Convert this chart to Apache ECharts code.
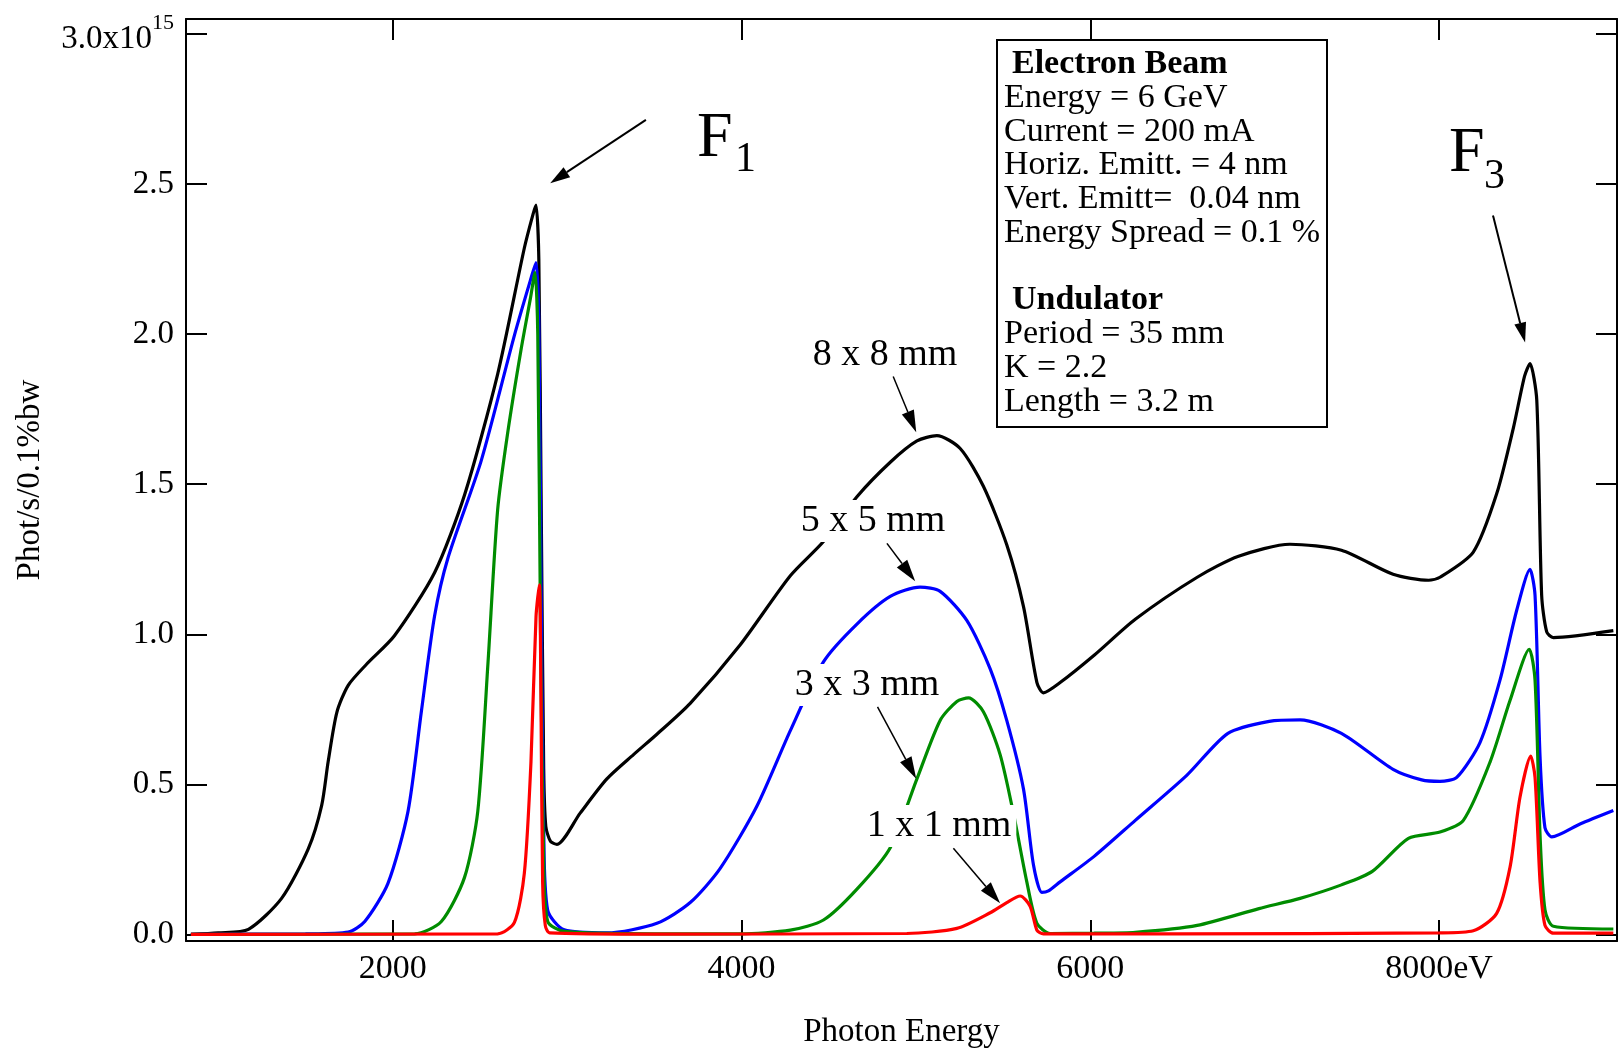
<!DOCTYPE html>
<html>
<head>
<meta charset="utf-8">
<script src="https://cdn.jsdelivr.net/npm/echarts@6/dist/echarts.min.js"></script>
<style>
  html, body { margin: 0; padding: 0; background: #fff; }
  #main { width: 1619px; height: 1049px; }
</style>
</head>
<body>
<div id="main"></div>
<script>
var fontFam = "'Liberation Serif', 'Times New Roman', serif";

// tick positions
var xTicks = [2000, 4000, 6000, 8000];
var yTicks = [0, 0.5, 1, 1.5, 2, 2.5, 3];

// photon energy (eV) and flux (x10^15 phot/s/0.1%bw)
var energy8 = [843, 1000, 1173, 1363, 1516, 1593, 1630, 1680, 1745, 1850, 2010, 2240, 2412, 2602, 2755, 2805, 2822, 2838, 2852, 2866, 2878, 2905, 2942, 3075, 3228, 3381, 3515, 3706, 3993, 4280, 4470, 4662, 4853, 5006, 5120, 5254, 5387, 5521, 5617, 5694, 5731, 5827, 6022, 6258, 6613, 6850, 7145, 7440, 7736, 7940, 8005, 8196, 8330, 8426, 8490, 8521, 8560, 8588, 8617, 8655, 8999];
var flux8 = [0.0, 0.005, 0.017, 0.12, 0.285, 0.43, 0.575, 0.74, 0.83, 0.90, 0.995, 1.205, 1.464, 1.867, 2.287, 2.40, 2.43, 2.25, 1.40, 0.55, 0.36, 0.31, 0.30, 0.404, 0.518, 0.599, 0.667, 0.77, 0.965, 1.195, 1.309, 1.458, 1.573, 1.644, 1.662, 1.619, 1.493, 1.298, 1.092, 0.839, 0.805, 0.839, 0.93, 1.05, 1.19, 1.26, 1.30, 1.28, 1.20, 1.18, 1.19, 1.274, 1.468, 1.688, 1.86, 1.902, 1.78, 1.13, 1.008, 0.989, 1.012];

var energy5 = [843, 1500, 1745, 1840, 1973, 2088, 2164, 2240, 2317, 2507, 2698, 2790, 2822, 2838, 2852, 2866, 2889, 2984, 3228, 3515, 3706, 3878, 4088, 4280, 4470, 4662, 4853, 5024, 5139, 5292, 5426, 5521, 5617, 5674, 5722, 5760, 5827, 6022, 6258, 6553, 6789, 7026, 7203, 7440, 7736, 7900, 8005, 8101, 8235, 8349, 8445, 8521, 8550, 8579, 8607, 8646, 8808, 8999];
var flux5 = [0.0, 0.002, 0.008, 0.043, 0.17, 0.41, 0.74, 1.06, 1.254, 1.577, 1.996, 2.18, 2.238, 2.05, 1.10, 0.35, 0.08, 0.015, 0.005, 0.037, 0.106, 0.22, 0.427, 0.679, 0.908, 1.034, 1.126, 1.157, 1.143, 1.046, 0.885, 0.713, 0.484, 0.232, 0.14, 0.145, 0.175, 0.26, 0.38, 0.53, 0.67, 0.71, 0.715, 0.67, 0.55, 0.515, 0.51, 0.523, 0.64, 0.847, 1.08, 1.216, 1.13, 0.588, 0.355, 0.325, 0.368, 0.413];

var energy3 = [843, 2126, 2279, 2412, 2488, 2546, 2602, 2660, 2736, 2790, 2816, 2832, 2848, 2866, 2889, 2984, 3500, 3993, 4280, 4470, 4662, 4853, 5006, 5139, 5235, 5302, 5387, 5483, 5559, 5636, 5694, 5770, 6022, 6258, 6613, 6967, 7203, 7440, 7617, 7824, 8005, 8139, 8292, 8407, 8517, 8550, 8579, 8607, 8655, 8999];
var flux3 = [0.0, 0.002, 0.043, 0.19, 0.41, 0.90, 1.415, 1.673, 1.948, 2.12, 2.206, 2.00, 1.00, 0.25, 0.043, 0.01, 0.002, 0.002, 0.014, 0.048, 0.151, 0.289, 0.518, 0.713, 0.776, 0.788, 0.742, 0.599, 0.404, 0.175, 0.037, 0.003, 0.004, 0.007, 0.03, 0.086, 0.12, 0.165, 0.21, 0.32, 0.341, 0.38, 0.574, 0.78, 0.95, 0.847, 0.328, 0.082, 0.027, 0.018];

var energy1 = [843, 2602, 2698, 2755, 2793, 2822, 2841, 2850, 2860, 2875, 2900, 3500, 4948, 5235, 5426, 5521, 5598, 5655, 5694, 5731, 6500, 8005, 8196, 8330, 8407, 8464, 8525, 8550, 8579, 8607, 8655, 8999];
var flux1 = [0.0, 0.002, 0.04, 0.204, 0.575, 1.06, 1.165, 0.80, 0.17, 0.03, 0.005, 0.001, 0.003, 0.02, 0.072, 0.106, 0.128, 0.094, 0.014, 0.002, 0.002, 0.005, 0.012, 0.07, 0.225, 0.458, 0.594, 0.523, 0.173, 0.03, 0.004, 0.004];

// parameter box text
var infoLines = ['Electron Beam', 'Energy = 6 GeV', 'Current = 200 mA', 'Horiz. Emitt. = 4 nm',
  'Vert. Emitt=  0.04 nm', 'Energy Spread = 0.1 %', '', 'Undulator', 'Period = 35 mm', 'K = 2.2', 'Length = 3.2 m'];
var infoBold = [0, 7];

// curve labels (pixel centre) and their arrows (data coords, tail -> tip)
var curveLabels = [
  { text: '8 x 8 mm', x: 885, y: 354 },
  { text: '5 x 5 mm', x: 873, y: 520 },
  { text: '3 x 3 mm', x: 867, y: 684 },
  { text: '1 x 1 mm', x: 939, y: 825 }
];
var arrows = [
  { from: [3452, 2.714], to: [2903, 2.503], len: 20, wid: 12, lw: 2 },
  { from: [8309, 2.395], to: [8493, 1.972], len: 20, wid: 12, lw: 2 },
  { from: [4870, 1.859], to: [5002, 1.673], len: 22, wid: 13, lw: 1.5 },
  { from: [4834, 1.303], to: [4996, 1.177], len: 22, wid: 13, lw: 1.5 },
  { from: [4780, 0.758], to: [5002, 0.519], len: 22, wid: 13, lw: 1.5 },
  { from: [5215, 0.287], to: [5483, 0.1035], len: 22, wid: 13, lw: 1.5 }
];

function pairs(xs, ys) {
  return xs.map(function (x, i) { return [x, ys[i]]; });
}

var chart = echarts.init(document.getElementById('main'));

var axisLine = { onZero: false, lineStyle: { color: '#000', width: 2 } };
var tickStyle = { color: '#000', width: 2 };

function curve(name, color, xs, ys) {
  return {
    name: name,
    type: 'line',
    data: pairs(xs, ys),
    showSymbol: false,
    symbol: 'none',
    smooth: 0.25,
    lineStyle: { color: color, width: 3.2 },
    itemStyle: { color: color },
    animation: false
  };
}

chart.setOption({
  animation: false,
  backgroundColor: '#fff',
  grid: { left: 186, right: 2, top: 19, bottom: 108, outerBoundsMode: 'none' },
  xAxis: [
    {
      type: 'value', position: 'bottom', min: 815, max: 9020,
      axisLine: axisLine,
      axisTick: { inside: true, length: 21, lineStyle: tickStyle, customValues: xTicks },
      axisLabel: {
        customValues: xTicks, margin: 11, color: '#000', fontSize: 34, fontFamily: fontFam,
        formatter: function (v) { return v === 8000 ? '8000eV' : String(v); }
      },
      splitLine: { show: false },
      name: 'Photon Energy', nameLocation: 'middle', nameGap: 75,
      nameTextStyle: { color: '#000', fontSize: 33, fontFamily: fontFam }
    },
    {
      type: 'value', position: 'top', min: 815, max: 9020,
      axisLine: axisLine,
      axisTick: { inside: true, length: 21, lineStyle: tickStyle, customValues: xTicks },
      axisLabel: { show: false },
      splitLine: { show: false }
    }
  ],
  yAxis: [
    {
      type: 'value', position: 'left', min: -0.022, max: 3.05,
      axisLine: axisLine,
      axisTick: { inside: true, length: 21, lineStyle: tickStyle, customValues: yTicks },
      axisLabel: {
        customValues: yTicks, margin: 12, color: '#000', fontSize: 33, fontFamily: fontFam,
        formatter: function (v) {
          if (v === 3) return '{m|3.0x10}{s|15}';
          return v.toFixed(1);
        },
        rich: {
          m: { fontSize: 33, fontFamily: fontFam, color: '#000', lineHeight: 44, verticalAlign: 'bottom' },
          s: { fontSize: 22, fontFamily: fontFam, color: '#000', lineHeight: 14, verticalAlign: 'top' }
        }
      },
      splitLine: { show: false },
      name: 'Phot/s/0.1%bw', nameLocation: 'middle', nameRotate: 90, nameGap: 139,
      nameTextStyle: { color: '#000', fontSize: 33, fontFamily: fontFam }
    },
    {
      type: 'value', position: 'right', min: -0.022, max: 3.05,
      axisLine: axisLine,
      axisTick: { inside: true, length: 21, lineStyle: tickStyle, customValues: yTicks },
      axisLabel: { show: false },
      splitLine: { show: false }
    }
  ],
  series: [
    curve('8 x 8 mm', '#000000', energy8, flux8),
    curve('5 x 5 mm', '#0000ff', energy5, flux5),
    curve('3 x 3 mm', '#008c00', energy3, flux3),
    curve('1 x 1 mm', '#ff0000', energy1, flux1)
  ]
});

// annotations: text box, F labels, curve labels, arrows
function txt(text, x, baseline, size, opts) {
  opts = opts || {};
  return {
    type: 'text', z: 100,
    x: x, y: baseline - 0.3375 * size,
    style: {
      text: text, fill: '#000',
      fontSize: size, fontFamily: fontFam, fontWeight: opts.bold ? 'bold' : 'normal',
      align: opts.align || 'left', verticalAlign: 'middle',
      backgroundColor: opts.bg, padding: opts.bg ? [2, 5] : 0
    }
  };
}

var els = [];
els.push({
  type: 'rect', z: 90,
  shape: { x: 997, y: 40, width: 330, height: 387 },
  style: { fill: '#fff', stroke: '#000', lineWidth: 2 }
});
infoLines.forEach(function (line, i) {
  if (!line) return;
  var bold = infoBold.indexOf(i) >= 0;
  els.push(txt(line, bold ? 1012 : 1004, 75.5 + i * 33.8, 34, { bold: bold }));
});

els.push(txt('F', 697, 161, 64));
els.push(txt('1', 735, 174, 42));
els.push(txt('F', 1449, 176, 64));
els.push(txt('3', 1484, 191, 42));

curveLabels.forEach(function (c) {
  var t = txt(c.text, c.x, c.y, 38, { align: 'center', bg: '#fff' });
  t.y = c.y + 1;
  els.push(t);
});

arrows.forEach(function (a) {
  var s = chart.convertToPixel({ gridIndex: 0 }, a.from);
  var t = chart.convertToPixel({ gridIndex: 0 }, a.to);
  var dx = t[0] - s[0], dy = t[1] - s[1];
  var d = Math.sqrt(dx * dx + dy * dy);
  var ux = dx / d, uy = dy / d;
  var bx = t[0] - ux * a.len, by = t[1] - uy * a.len;
  var nx = -uy * a.wid / 2, ny = ux * a.wid / 2;
  els.push({
    type: 'line', z: 101,
    shape: { x1: s[0], y1: s[1], x2: bx, y2: by },
    style: { stroke: '#000', lineWidth: a.lw }
  });
  els.push({
    type: 'polygon', z: 101,
    shape: { points: [[t[0], t[1]], [bx + nx, by + ny], [bx - nx, by - ny]] },
    style: { fill: '#000' }
  });
});

chart.setOption({ graphic: { elements: els } });
</script>
</body>
</html>
